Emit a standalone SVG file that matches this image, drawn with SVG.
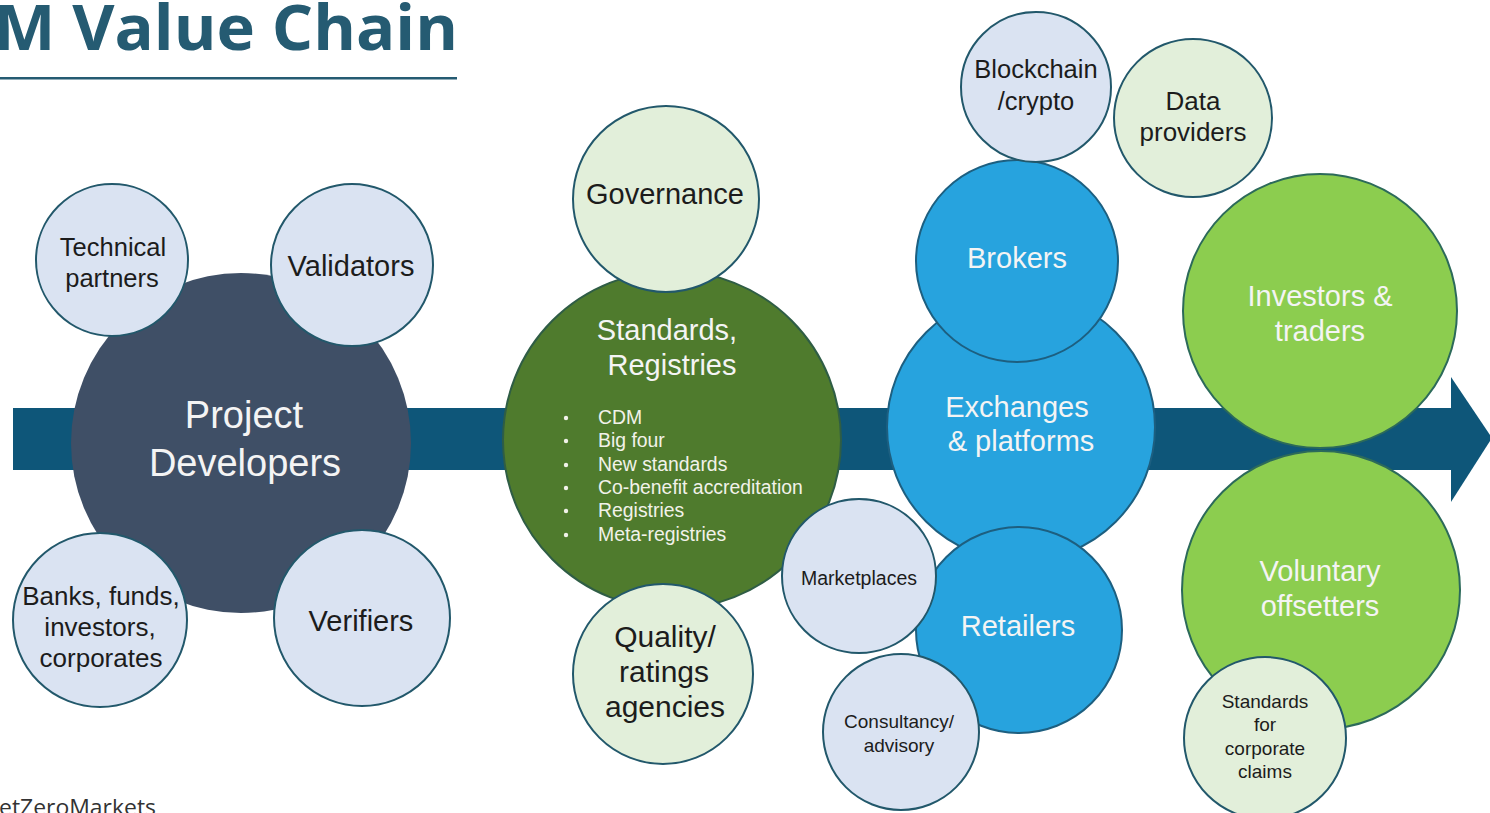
<svg xmlns="http://www.w3.org/2000/svg" width="1490" height="813" viewBox="0 0 1490 813">
  <style>
    .lb { fill: #dae3f2; stroke: #22586b; stroke-width: 2; }
    .lg { fill: #e2efda; stroke: #22586b; stroke-width: 2; }
    .bb { fill: #27a3de; stroke: #1d5f80; stroke-width: 2; }
    .gg { fill: #8ccd4f; stroke: #2c6a5a; stroke-width: 2; }
    text { font-family: "Liberation Sans", Arial, sans-serif; text-anchor: middle; }
    .dk { fill: #1c1c1c; }
    .wt { fill: #f4f4f4; }
    .bl { text-anchor: start; fill: #f2f2ea; font-size: 19.4px; }
  </style>

  <!-- heading -->
  <g id="title">
    <text x="-6" y="50" style="font-family:'Open Sans','Noto Sans',sans-serif;font-weight:700;text-anchor:start" font-size="63" fill="#255b72" textLength="464" lengthAdjust="spacingAndGlyphs">M Value Chain</text>
    <rect x="0" y="77" width="457" height="2.5" fill="#255b72"/>
  </g>
  <g id="footer">
    <text x="-1" y="815" style="font-family:'Open Sans','Noto Sans',sans-serif;text-anchor:start" font-size="21" fill="#333" textLength="157" lengthAdjust="spacingAndGlyphs">etZeroMarkets</text>
  </g>

  <!-- flow arrow running under the chain -->
  <g id="connectors">
    <rect x="13" y="408" width="1440" height="62" fill="#0e5679"/>
    <polygon points="1451,377 1492,438 1451,502" fill="#0e5679"/>
  </g>

  <!-- project development cluster -->
  <g id="project-developers">
    <circle cx="241" cy="443" r="170" fill="#3f4f66"/>
    <text class="wt" x="244" y="428" font-size="38">Project</text>
    <text class="wt" x="245" y="476" font-size="38">Developers</text>
  </g>
  <g id="technical-partners">
    <circle class="lb" cx="112" cy="260" r="76"/>
    <text class="dk" x="113" y="256" font-size="25.5">Technical</text>
    <text class="dk" x="112" y="287" font-size="25.5">partners</text>
  </g>
  <g id="validators">
    <circle class="lb" cx="352" cy="265" r="81"/>
    <text class="dk" x="351" y="276" font-size="29">Validators</text>
  </g>
  <g id="banks">
    <circle class="lb" cx="100" cy="620" r="87"/>
    <text class="dk" x="101" y="605" font-size="26">Banks, funds,</text>
    <text class="dk" x="100" y="636" font-size="26">investors,</text>
    <text class="dk" x="101" y="667" font-size="26">corporates</text>
  </g>
  <g id="verifiers">
    <circle class="lb" cx="362" cy="618" r="88"/>
    <text class="dk" x="361" y="631" font-size="29">Verifiers</text>
  </g>

  <!-- standards cluster -->
  <g id="standards-registries">
    <circle cx="672" cy="440" r="169" fill="#4f7b2d" stroke="#2f5d45" stroke-width="2"/>
    <text class="wt" x="667" y="340" font-size="29">Standards,</text>
    <text class="wt" x="672" y="375" font-size="29">Registries</text>
    <g fill="#f2f2ea">
      <circle cx="566" cy="418" r="2.2"/>
      <circle cx="566" cy="441" r="2.2"/>
      <circle cx="566" cy="465" r="2.2"/>
      <circle cx="566" cy="488" r="2.2"/>
      <circle cx="566" cy="511" r="2.2"/>
      <circle cx="566" cy="535" r="2.2"/>
    </g>
    <text class="bl" x="598" y="424">CDM</text>
    <text class="bl" x="598" y="447">Big four</text>
    <text class="bl" x="598" y="471">New standards</text>
    <text class="bl" x="598" y="494">Co-benefit accreditation</text>
    <text class="bl" x="598" y="517">Registries</text>
    <text class="bl" x="598" y="541">Meta-registries</text>
  </g>
  <g id="governance">
    <circle class="lg" cx="666" cy="199" r="93"/>
    <text class="dk" x="665" y="204" font-size="29">Governance</text>
  </g>
  <g id="quality-ratings">
    <circle class="lg" cx="663" cy="674" r="90"/>
    <text class="dk" x="665" y="647" font-size="30">Quality/</text>
    <text class="dk" x="664" y="682" font-size="30">ratings</text>
    <text class="dk" x="665" y="717" font-size="30">agencies</text>
  </g>

  <!-- trading cluster -->
  <g id="exchanges">
    <circle class="bb" cx="1021" cy="427" r="134"/>
    <text class="wt" x="1017" y="417" font-size="29">Exchanges</text>
    <text class="wt" x="1021" y="451" font-size="29">&amp; platforms</text>
  </g>
  <g id="brokers">
    <circle class="bb" cx="1017" cy="261" r="101"/>
    <text class="wt" x="1017" y="268" font-size="29">Brokers</text>
  </g>
  <g id="retailers">
    <circle class="bb" cx="1019" cy="630" r="103"/>
    <text class="wt" x="1018" y="636" font-size="29">Retailers</text>
  </g>
  <g id="marketplaces">
    <circle class="lb" cx="859" cy="576" r="77"/>
    <text class="dk" x="859" y="585" font-size="19.5">Marketplaces</text>
  </g>
  <g id="consultancy">
    <circle class="lb" cx="901" cy="732" r="78"/>
    <text class="dk" x="899" y="728" font-size="19">Consultancy/</text>
    <text class="dk" x="899" y="752" font-size="19">advisory</text>
  </g>
  <g id="blockchain">
    <circle class="lb" cx="1036" cy="87" r="75"/>
    <text class="dk" x="1036" y="78" font-size="25.5">Blockchain</text>
    <text class="dk" x="1036" y="110" font-size="25.5">/crypto</text>
  </g>
  <g id="data-providers">
    <circle class="lg" cx="1193" cy="118" r="79"/>
    <text class="dk" x="1193" y="110" font-size="26">Data</text>
    <text class="dk" x="1193" y="141" font-size="26">providers</text>
  </g>

  <!-- end users -->
  <g id="investors-traders">
    <circle class="gg" cx="1320" cy="311" r="137"/>
    <text class="wt" x="1320" y="306" font-size="29">Investors &amp;</text>
    <text class="wt" x="1320" y="341" font-size="29">traders</text>
  </g>
  <g id="voluntary-offsetters">
    <circle class="gg" cx="1321" cy="590" r="139"/>
    <text class="wt" x="1320" y="581" font-size="29">Voluntary</text>
    <text class="wt" x="1320" y="616" font-size="29">offsetters</text>
  </g>
  <g id="corporate-claims">
    <circle class="lg" cx="1265" cy="738" r="81"/>
    <text class="dk" x="1265" y="708" font-size="19">Standards</text>
    <text class="dk" x="1265" y="731" font-size="19">for</text>
    <text class="dk" x="1265" y="755" font-size="19">corporate</text>
    <text class="dk" x="1265" y="778" font-size="19">claims</text>
  </g>
</svg>
